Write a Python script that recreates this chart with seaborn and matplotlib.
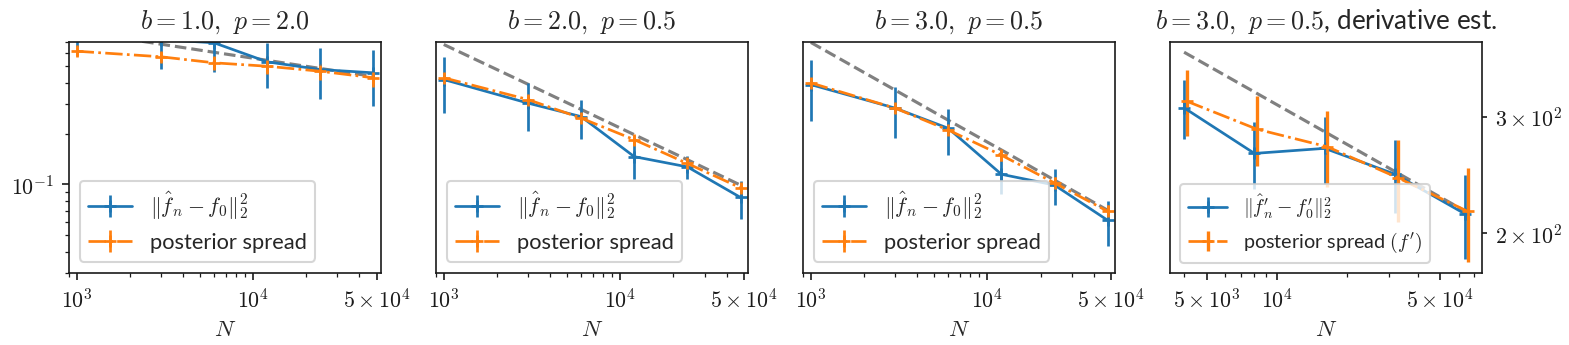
import numpy as np
import matplotlib
matplotlib.use("Agg")
import matplotlib.pyplot as plt
import seaborn as sns

# sample sizes
N = [1000, 3000, 6000, 12000, 24000, 48000]
N_deriv = [4000, 8000, 16000, 32000, 64000]

# b=1.0, p=2.0
err_b1 = [0.85, 0.72, 0.69, 0.532, 0.479, 0.458]
err_b1_sd = [0.20, 0.235, 0.23, 0.158, 0.16, 0.165]
spread_b1 = [0.615, 0.570, 0.525, 0.501, 0.468, 0.428]
spread_b1_sd = [0.035, 0.035, 0.05, 0.05, 0.05, 0.05]
rate_b1 = [0.806, 0.677, 0.606, 0.543, 0.486, 0.436]

# b=2.0, p=0.5
err_b2 = [0.418, 0.303, 0.252, 0.146, 0.127, 0.0837]
err_b2_sd = [0.152, 0.096, 0.066, 0.038, 0.020, 0.021]
spread_b2 = [0.428, 0.318, 0.247, 0.184, 0.133, 0.0955]
spread_b2_sd = [0.030, 0.022, 0.017, 0.013, 0.009, 0.007]
rate_b2 = [0.674, 0.392, 0.278, 0.197, 0.140, 0.099]

# b=3.0, p=0.5
err_b3 = [0.390, 0.283, 0.215, 0.1148, 0.0991, 0.0613]
err_b3_sd = [0.153, 0.094, 0.065, 0.027, 0.0235, 0.018]
spread_b3 = [0.399, 0.283, 0.210, 0.149, 0.102, 0.0693]
spread_b3_sd = [0.028, 0.020, 0.015, 0.011, 0.008, 0.006]
rate_b3 = [0.693, 0.362, 0.240, 0.160, 0.106, 0.0703]

# b=3.0, p=0.5, derivative
deriv_err = [309.7, 264.2, 268.9, 245.7, 213.8]
deriv_err_sd = [31.6, 31.0, 31.5, 31.0, 31.0]
deriv_spread = [317.0, 287.5, 270.4, 242.8, 215.8]
deriv_spread_sd = [36.0, 35.0, 35.5, 34.5, 35.0]
deriv_rate = [376.0, 327.3, 284.9, 248.0, 215.9]

titles = [r"$b=1.0,\ p=2.0$", r"$b=2.0,\ p=0.5$", r"$b=3.0,\ p=0.5$",
          r"$b=3.0,\ p=0.5$, derivative est."]
xticks = [1e3, 1e4, 5e4]
xtick_labels = [r"$10^{3}$", r"$10^{4}$", r"$5\times10^{4}$"]
xticks_deriv = [5e3, 1e4, 5e4]
xtick_labels_deriv = [r"$5\times10^{3}$", r"$10^{4}$", r"$5\times10^{4}$"]
yticks = [0.1]
ytick_labels = [r"$10^{-1}$"]
yticks_deriv = [200, 300]
ytick_labels_deriv = [r"$2\times10^{2}$", r"$3\times10^{2}$"]

sns.set_style("ticks")
plt.rcParams["mathtext.fontset"] = "cm"
plt.rcParams["font.family"] = ["Lato", "DejaVu Sans"]
plt.rcParams["axes.edgecolor"] = "0.1"
plt.rcParams["xtick.color"] = "0.1"
plt.rcParams["ytick.color"] = "0.1"
plt.rcParams["xtick.labelsize"] = 10.5
plt.rcParams["ytick.labelsize"] = 10.5

blue = "#1f77b4"
orange = "#ff7f0e"

fig, axes = plt.subplots(1, 4, figsize=(10.46, 2.3), dpi=150)
fig.subplots_adjust(left=0.0437, right=0.9446, bottom=0.2096, top=0.8791, wspace=0.176)

paneles = [
    (err_b1, err_b1_sd, spread_b1, spread_b1_sd, rate_b1),
    (err_b2, err_b2_sd, spread_b2, spread_b2_sd, rate_b2),
    (err_b3, err_b3_sd, spread_b3, spread_b3_sd, rate_b3),
]

for i, (e, esd, s, ssd, r) in enumerate(paneles):
    ax = axes[i]
    sns.lineplot(x=N, y=r, ax=ax, color="gray", linestyle="--", lw=1.5, legend=False)
    ax.errorbar(N, e, yerr=esd, fmt="+-", color=blue, lw=1.3, ms=6, mew=1.3,
                label=r"$\|\hat{f}_n - f_0\|_2^2$")
    ax.errorbar(N, s, yerr=ssd, fmt="+-.", color=orange, lw=1.3, ms=6, mew=1.3,
                label="posterior spread")
    ax.set_xscale("log")
    ax.set_yscale("log")
    ax.set_xlim(0.9 * N[0], 1.1 * N[-1])
    ax.set_ylim(0.03, 0.7)
    ax.set_xticks(xticks, xtick_labels)
    ax.xaxis.set_minor_formatter(matplotlib.ticker.NullFormatter())
    ax.yaxis.set_minor_formatter(matplotlib.ticker.NullFormatter())
    if i == 0:
        ax.set_yticks(yticks, ytick_labels)
    else:
        ax.tick_params(axis="y", which="both", left=False, labelleft=False)
    ax.set_title(titles[i], fontsize=12.5)
    ax.set_xlabel("$N$", fontsize=11)
    ax.legend(loc="lower left", fontsize=10.5)

# derivative panel
ax = axes[3]
sns.lineplot(x=N_deriv, y=deriv_rate, ax=ax, color="gray", linestyle="--", lw=1.5, legend=False)
ax.errorbar(N_deriv, deriv_err, yerr=deriv_err_sd, fmt="+-", color=blue, lw=1.3, ms=6, mew=1.3,
            label=r"$\|\hat{f}_n' - f_0'\|_2^2$")
ax.errorbar(np.array(N_deriv) * 1.025, deriv_spread, yerr=deriv_spread_sd, fmt="+-.",
            color=orange, lw=1.3, elinewidth=1.6, ms=6, mew=1.3,
            label=r"posterior spread $(f')$")
ax.set_xscale("log")
ax.set_yscale("log")
ax.set_xticks(xticks_deriv, xtick_labels_deriv)
ax.xaxis.set_minor_formatter(matplotlib.ticker.NullFormatter())
ax.set_yticks(yticks_deriv, ytick_labels_deriv)
ax.yaxis.set_minor_locator(matplotlib.ticker.NullLocator())
ax.yaxis.tick_right()
ax.tick_params(axis="y", which="major", length=2.5)
ax.set_title(titles[3], fontsize=12.5)
ax.set_xlabel("$N$", fontsize=11)
ax.legend(loc="lower left", fontsize=9.5)

plt.savefig("out.png", dpi=150)
